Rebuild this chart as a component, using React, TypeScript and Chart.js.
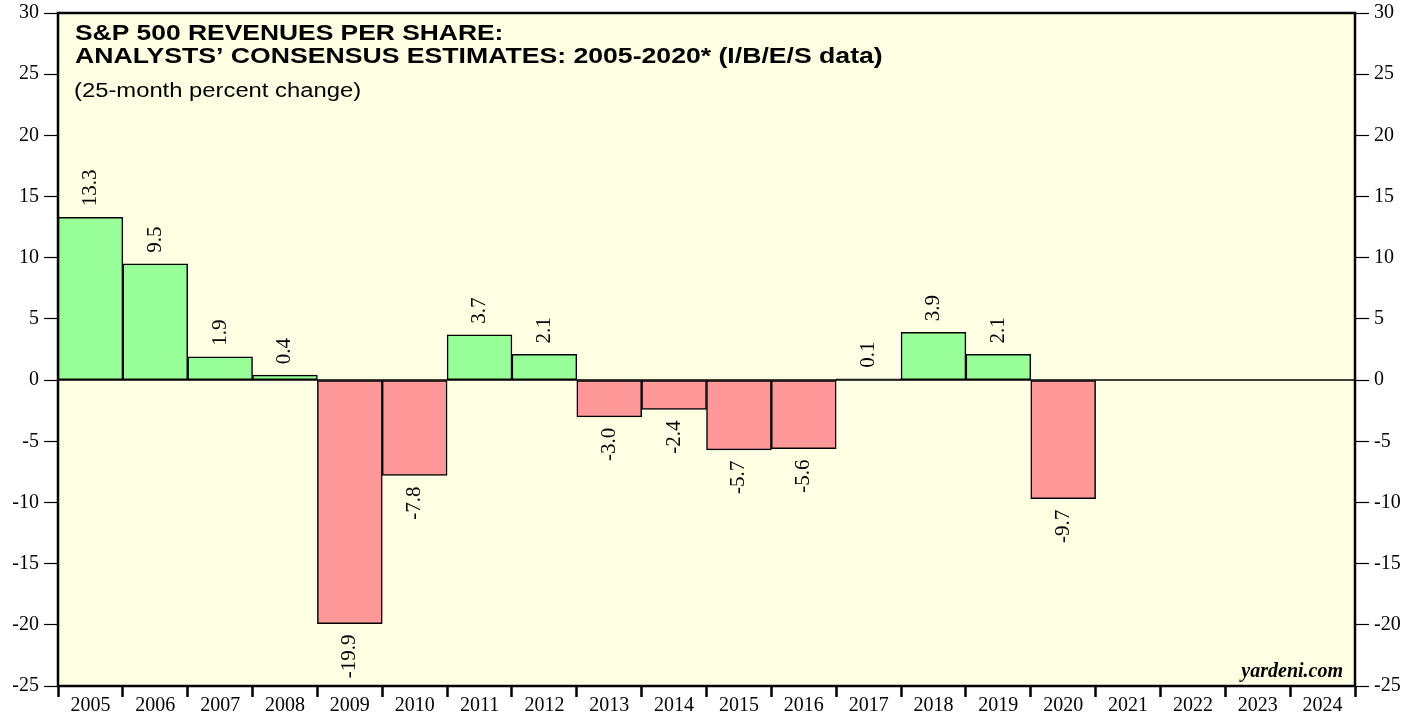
import React, { useEffect, useRef } from "react";
import { Chart, registerables } from "chart.js";

Chart.register(...registerables);

const years: string[] = [
  "2005", "2006", "2007", "2008", "2009", "2010", "2011", "2012", "2013", "2014",
  "2015", "2016", "2017", "2018", "2019", "2020", "2021", "2022", "2023", "2024",
];
const changes: (number | null)[] = [
  13.3, 9.5, 1.9, 0.4, -19.9, -7.8, 3.7, 2.1, -3.0, -2.4,
  -5.7, -5.6, 0.1, 3.9, 2.1, -9.7, null, null, null, null,
];
const yMin = -25;
const yMax = 30;
const yStep = 5;
const titleLines: string[] = [
  "S&P 500 REVENUES PER SHARE:",
  "ANALYSTS\u2019 CONSENSUS ESTIMATES: 2005-2020* (I/B/E/S data)",
];
const subtitle = "(25-month percent change)";
const credit = "yardeni.com";

const BG = "#FFFFE3";
const GREEN = "#99FF99";
const RED = "#FF9999";
const SERIF = "'Liberation Serif', 'Times New Roman', serif";
const SANS = "'Liberation Sans', Arial, sans-serif";

function stretchedText(ctx: CanvasRenderingContext2D, txt: string, x: number, y: number, sx: number) {
  ctx.save();
  ctx.translate(x, y);
  ctx.scale(sx, 1);
  ctx.fillText(txt, 0, 0);
  ctx.restore();
}

const decorPlugin = {
  id: "decor",
  beforeDatasetsDraw(chart: any) {
    const { ctx, chartArea: a } = chart;
    ctx.save();
    ctx.fillStyle = BG;
    ctx.fillRect(a.left, a.top, a.right - a.left, a.bottom - a.top);
    ctx.restore();
  },
  afterDatasetsDraw(chart: any) {
    const { ctx, chartArea: a } = chart;
    const y = chart.scales.y;
    ctx.save();
    // zero line
    const y0 = y.getPixelForValue(0);
    ctx.strokeStyle = "#000";
    ctx.lineWidth = 1.5;
    ctx.beginPath();
    ctx.moveTo(a.left, y0);
    ctx.lineTo(a.right, y0);
    ctx.stroke();

    // data labels
    const meta = chart.getDatasetMeta(0);
    ctx.fillStyle = "#000";
    ctx.font = `21px ${SERIF}`;
    ctx.textBaseline = "middle";
    meta.data.forEach((el: any, i: number) => {
      const v = changes[i];
      if (v === null || v === undefined) return;
      const txt = v.toFixed(1);
      ctx.save();
      if (v >= 0) {
        ctx.translate(el.x, el.y - 11);
        ctx.rotate(-Math.PI / 2);
        ctx.textAlign = "left";
      } else {
        ctx.translate(el.x, el.y + 11);
        ctx.rotate(-Math.PI / 2);
        ctx.textAlign = "right";
      }
      ctx.fillText(txt, 0, 0);
      ctx.restore();
    });

    // frame
    ctx.lineWidth = 2.5;
    ctx.strokeRect(a.left, a.top, a.right - a.left, a.bottom - a.top);

    // titles
    ctx.textAlign = "left";
    ctx.textBaseline = "alphabetic";
    ctx.font = `bold 22px ${SANS}`;
    stretchedText(ctx, titleLines[0], a.left + 17, 40, 1.2);
    stretchedText(ctx, titleLines[1], a.left + 17, 63, 1.21);
    ctx.font = `20px ${SANS}`;
    stretchedText(ctx, subtitle, a.left + 16, 97, 1.19);

    // credit
    ctx.textAlign = "right";
    ctx.font = `italic bold 20px ${SERIF}`;
    ctx.fillText(credit, a.right - 12, 677);
    ctx.restore();
  },
};

export default function App() {
  const ref = useRef<HTMLCanvasElement | null>(null);
  useEffect(() => {
    document.body.style.margin = "0";
    const canvas = ref.current;
    if (!canvas) return;
    const yTicks = {
      stepSize: yStep,
      color: "#000",
      font: { family: SERIF, size: 20 },
      padding: 5,
    };
    const yGrid = {
      drawOnChartArea: false,
      drawTicks: true,
      tickLength: 14,
      tickWidth: 1.2,
      tickColor: "#000",
    };
    const chart = new Chart(canvas, {
      type: "bar",
      data: {
        labels: years,
        datasets: [
          {
            data: changes as any,
            backgroundColor: changes.map((v) => (v !== null && v < 0 ? RED : GREEN)),
            borderColor: "#000",
            borderWidth: 1.5,
            borderSkipped: false,
            barPercentage: 1,
            categoryPercentage: 1,
          },
        ],
      },
      options: {
        responsive: false,
        animation: false,
        devicePixelRatio: 1,
        layout: { padding: { top: 13, left: 0, right: 0, bottom: 0 } },
        plugins: { legend: { display: false }, tooltip: { enabled: false } },
        scales: {
          x: {
            offset: true,
            grid: {
              offset: true,
              drawOnChartArea: false,
              drawTicks: true,
              tickLength: 11,
              tickWidth: 2.5,
              tickColor: "#000",
            },
            border: { display: false },
            ticks: {
              color: "#000",
              font: { family: SERIF, size: 20 },
              padding: -3,
              maxRotation: 0,
              autoSkip: false,
            },
            afterFit(scale: any) {
              scale.height = 31;
              scale.paddingLeft = 0;
              scale.paddingRight = 0;
            },
          },
          y: {
            position: "left",
            min: yMin,
            max: yMax,
            ticks: yTicks,
            grid: yGrid,
            border: { display: false },
            afterFit(scale: any) {
              scale.width = 58;
              scale.paddingTop = 0;
              scale.paddingBottom = 0;
            },
          },
          y2: {
            position: "right",
            min: yMin,
            max: yMax,
            ticks: yTicks,
            grid: yGrid,
            border: { display: false },
            afterFit(scale: any) {
              scale.width = 64;
              scale.paddingTop = 0;
              scale.paddingBottom = 0;
            },
          },
        },
      } as any,
      plugins: [decorPlugin],
    });
    return () => chart.destroy();
  }, []);
  return (
    <div style={{ position: "absolute", left: 0, top: 0, width: 1419, height: 717, background: "#fff" }}>
      <canvas ref={ref} width={1419} height={717} />
    </div>
  );
}
